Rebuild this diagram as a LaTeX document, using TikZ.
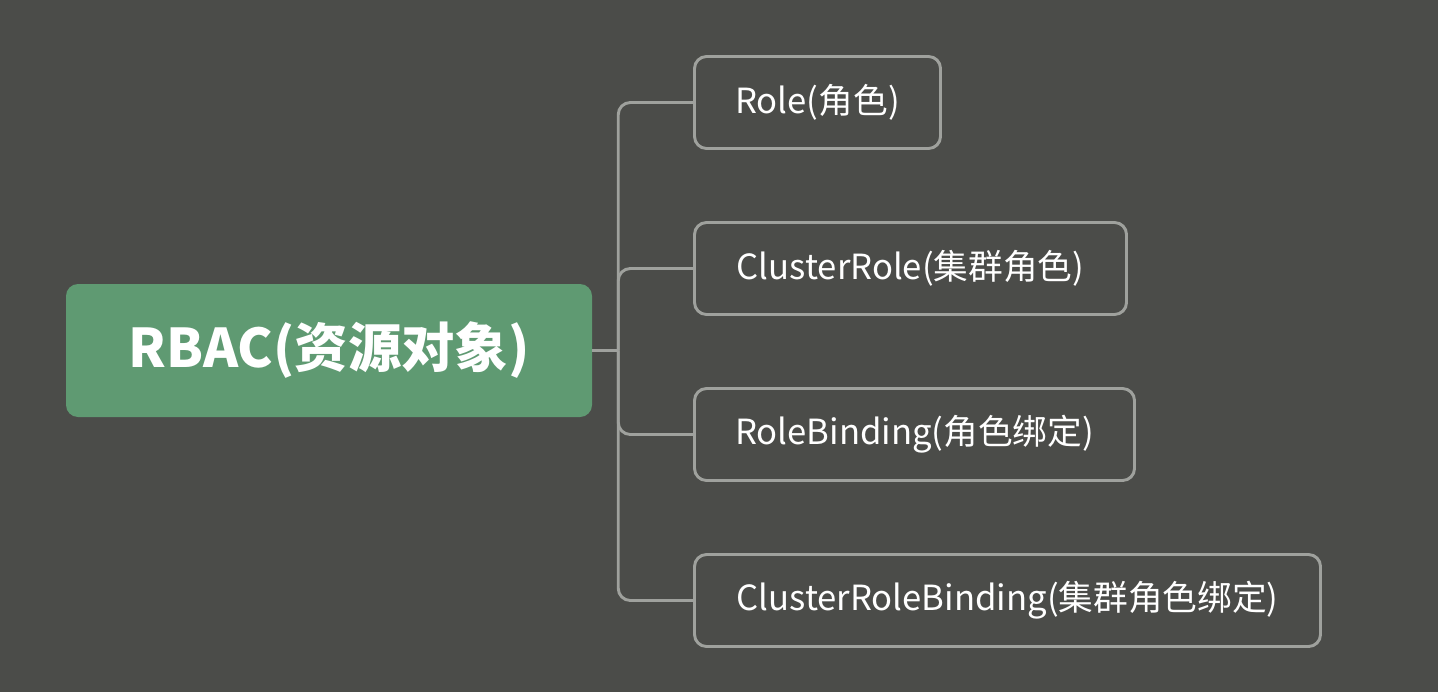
\documentclass[tikz,border=0pt]{standalone}
\usepackage{fontspec}
\setmainfont{Noto Sans CJK SC}
\usepackage{tikz}
\usetikzlibrary{calc}
\definecolor{bg}{HTML}{4B4C49}
\definecolor{rootgreen}{HTML}{5F9A72}
\definecolor{edge}{HTML}{9FA19D}

\begin{document}
\begin{tikzpicture}[x=0.75pt,y=-0.75pt,
  rootbox/.style={fill=rootgreen,rounded corners=9pt,minimum height=99.75pt,text=white,
    font=\fontsize{40}{48}\selectfont\bfseries,inner sep=0pt},
  leafbox/.style={draw=edge,line width=2.2pt,fill=bg,rounded corners=9pt,minimum height=69pt,
    text=white,font=\fontsize{26}{32}\selectfont,inner sep=0pt},
  branch/.style={draw=edge,line width=2.2pt,rounded corners=9pt}]
  \fill[bg] (0,0) rectangle (1438,692);
  \useasboundingbox (0,0) rectangle (1438,692);
  \node[rootbox,minimum width=394.5pt] (rbac) at (329,350.5) {RBAC(资源对象)};
  \node[leafbox,minimum width=184.5pt] (role) at (817.5,102.5) {Role(角色)};
  \node[leafbox,minimum width=324pt] (crole) at (910.5,268.5) {ClusterRole(集群角色)};
  \node[leafbox,minimum width=330pt] (rbind) at (914.5,434.5) {RoleBinding(角色绑定)};
  \node[leafbox,minimum width=469.5pt] (crbind) at (1007.5,600.5) {ClusterRoleBinding(集群角色绑定)};
  \coordinate (fork) at ($(rbac.east)+(26,0)$);
  \draw[edge,line width=2.2pt] (rbac.east) -- (fork);
  \foreach \leaf in {role,crole,rbind,crbind}
    \draw[branch] (fork) |- (\leaf.west);
\end{tikzpicture}
\end{document}
